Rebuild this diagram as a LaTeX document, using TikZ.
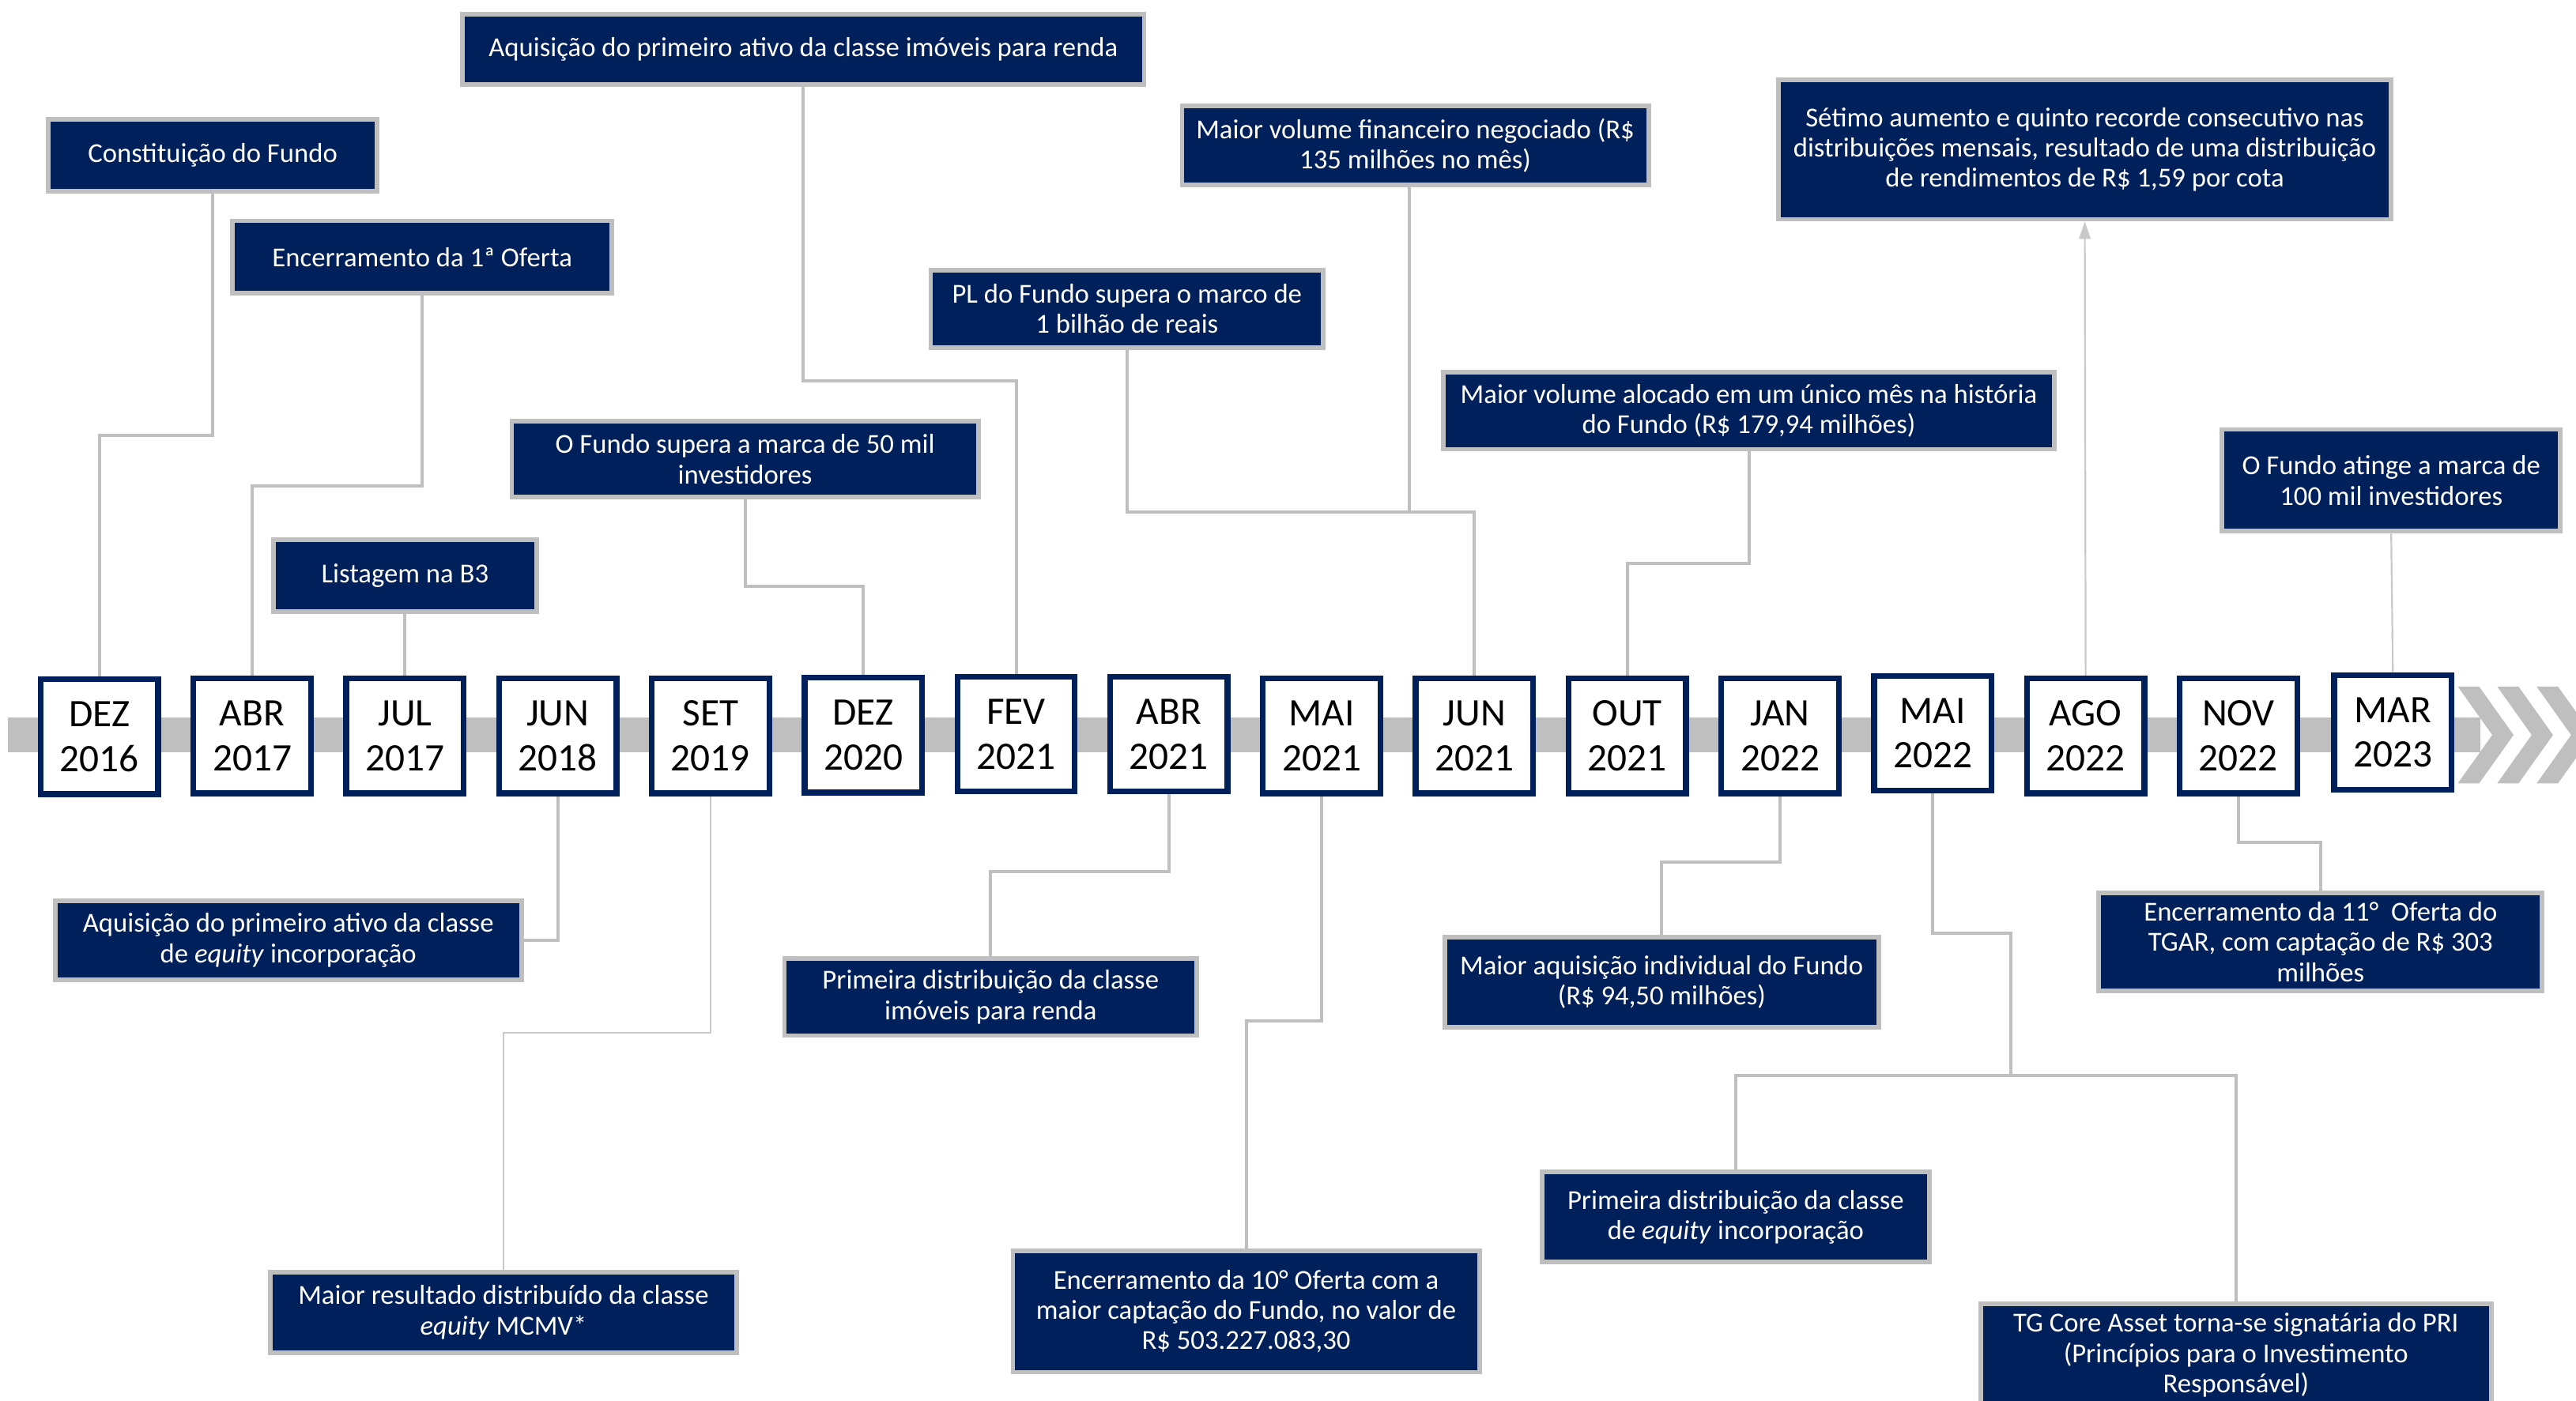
\documentclass[tikz,border=0pt]{standalone}
\usepackage{fontspec}
\setmainfont{Carlito}
\usepackage{xcolor}
\usepackage{tikz}
\usetikzlibrary{arrows.meta, positioning, shapes.geometric}

\definecolor{navy}{HTML}{00205B}
\definecolor{lgray}{HTML}{BFBFBF}

\begin{document}
\begin{tikzpicture}[x=0.02cm, y=-0.02cm,
    event/.style={draw=lgray, line width=1.6pt, fill=navy, text=white, align=center,
        inner sep=0pt, font=\fontsize{9.5}{10.5}\selectfont},
    datebox/.style={draw=navy, line width=2pt, fill=white, text=black, align=center,
        inner sep=0pt, minimum width=1.43cm, minimum height=1.4cm,
        font=\fontsize{13.5}{15.5}\selectfont},
    link/.style={draw=lgray, line width=1.1pt},
    thinlink/.style={draw=lgray!85, line width=0.6pt}]
    \useasboundingbox (0,0) rectangle (1568,853);

    % Timeline bar and chevrons
    \fill[lgray] (5,437) rectangle (1510,458);
    \fill[lgray] (1496,418) -- (1509,418) -- (1530,447.5) -- (1509,477) -- (1496,477) -- (1517,447.5) -- cycle;
    \fill[lgray] (1520,418) -- (1533,418) -- (1554,447.5) -- (1533,477) -- (1520,477) -- (1541,447.5) -- cycle;
    \fill[lgray] (1544,418) -- (1557,418) -- (1578,447.5) -- (1557,477) -- (1544,477) -- (1565,447.5) -- cycle;

    % Dates
    \node[datebox] (d1) at (60.5,448.5) {DEZ\\2016};
    \node[datebox] (d2) at (153.5,448) {ABR\\2017};
    \node[datebox] (d3) at (246.5,448) {JUL\\2017};
    \node[datebox] (d4) at (339.5,448) {JUN\\2018};
    \node[datebox] (d5) at (432.5,448) {SET\\2019};
    \node[datebox] (d6) at (525.5,447.5) {DEZ\\2020};
    \node[datebox] (d7) at (618.5,447) {FEV\\2021};
    \node[datebox] (d8) at (711.5,447) {ABR\\2021};
    \node[datebox] (d9) at (804.5,448) {MAI\\2021};
    \node[datebox] (d10) at (897.5,448) {JUN\\2021};
    \node[datebox] (d11) at (990.5,448) {OUT\\2021};
    \node[datebox] (d12) at (1083.5,448) {JAN\\2022};
    \node[datebox] (d13) at (1176.5,446.5) {MAI\\2022};
    \node[datebox] (d14) at (1269.5,448) {AGO\\2022};
    \node[datebox] (d15) at (1362.5,448) {NOV\\2022};
    \node[datebox] (d16) at (1456.5,446) {MAR\\2023};

    % Events above the line
    \node[event, minimum width=4cm, minimum height=0.88cm] (e1) at (129.5,94.5) {Constituição do Fundo};
    \node[event, minimum width=4.62cm, minimum height=0.88cm] (e2) at (257,156.5) {Encerramento da 1ª Oferta};
    \node[event, minimum width=8.3cm, minimum height=0.86cm] (e3) at (489,30) {Aquisição do primeiro ativo da classe imóveis para renda};
    \node[event, minimum width=3.2cm, minimum height=0.88cm] (e4) at (246.5,350.5) {Listagem na B3};
    \node[event, minimum width=5.68cm, minimum height=0.92cm] (e5) at (453.5,279.5) {O Fundo supera a marca de 50 mil\\investidores};
    \node[event, minimum width=4.78cm, minimum height=0.94cm] (e6) at (686,188) {PL do Fundo supera o marco de\\1 bilhão de reais};
    \node[event, minimum width=5.68cm, minimum height=0.96cm] (e7) at (861.5,88.5) {Maior volume financeiro negociado (R\$\\135 milhões no mês)};
    \node[event, minimum width=7.44cm, minimum height=0.94cm] (e8) at (1064.5,250) {Maior volume alocado em um único mês na história\\do Fundo (R\$ 179,94 milhões)};
    \node[event, minimum width=7.46cm, minimum height=1.7cm] (e9) at (1269,91) {Sétimo aumento e quinto recorde consecutivo nas\\distribuições mensais, resultado de uma distribuição\\de rendimentos de R\$ 1,59 por cota};
    \node[event, minimum width=4.12cm, minimum height=1.24cm] (e10) at (1455.5,292.5) {O Fundo atinge a marca de\\100 mil investidores};

    % Events below the line
    \node[event, minimum width=5.68cm, minimum height=0.96cm] (e11) at (175.5,572.5) {Aquisição do primeiro ativo da classe\\de \textit{equity} incorporação};
    \node[event, minimum width=5.68cm, minimum height=0.98cm] (e12) at (306.5,799) {Maior resultado distribuído da classe\\\textit{equity} MCMV*};
    \node[event, minimum width=5.02cm, minimum height=0.94cm] (e13) at (603,607) {Primeira distribuição da classe\\imóveis para renda};
    \node[event, minimum width=5.68cm, minimum height=1.48cm] (e14) at (758.5,798.5) {Encerramento da 10° Oferta com a\\maior captação do Fundo, no valor de\\R\$ 503.227.083,30};
    \node[event, minimum width=5.28cm, minimum height=1.1cm] (e15) at (1011.5,598) {Maior aquisição individual do Fundo\\(R\$ 94,50 milhões)};
    \node[event, minimum width=4.72cm, minimum height=1.1cm] (e16) at (1056.5,741) {Primeira distribuição da classe\\de \textit{equity} incorporação};
    \node[event, minimum width=6.22cm, minimum height=1.24cm] (e17) at (1361,825) {TG Core Asset torna-se signatária do PRI\\(Princípios para o Investimento\\Responsável)};
    \node[event, minimum width=5.4cm, minimum height=1.2cm] (e18) at (1412.5,573.5) {Encerramento da 11°~ Oferta do\\TGAR, com captação de R\$ 303\\milhões};

    % Connectors above
    \draw[link] (e1.south) -- ++(0,147) -| (d1.north);
    \draw[link] (e2.south) -- ++(0,116) -| (d2.north);
    \draw[link] (e3.south) -- ++(0,179) -| (d7.north);
    \draw[link] (e4.south) -- (d3.north);
    \draw[link] (e5.south) -- ++(0,53) -| (d6.north);
    \draw[link] (e6.south) -- ++(0,99) -| (d10.north);
    \draw[link] ([xshift=-0.07cm]e7.south) -- ++(0,198);
    \draw[link] (e8.south) -- ++(0,68) -| (d11.north);
    \draw[thinlink, -{Triangle[length=6pt, width=4pt]}] (d14.north) -- (e9.south);
    \draw[thinlink] (e10.south) -- (d16.north);

    % Connectors below
    \coordinate (j13) at (1224,655);
    \draw[link] (d4.south) |- (e11.east);
    \draw[thinlink] (d5.south) -- ++(0,144) -| (e12.north);
    \draw[link] (d8.south) -- ++(0,47) -| (e13.north);
    \draw[link] (d9.south) -- ++(0,137) -| (e14.north);
    \draw[link] (d12.south) -- ++(0,40) -| (e15.north);
    \draw[link] (d13.south) -- ++(0,85) -| (j13);
    \draw[link] (e16.north) |- (j13) -| (e17.north);
    \draw[link] (d15.south) -- ++(0,28) -| (e18.north);
\end{tikzpicture}
\end{document}
